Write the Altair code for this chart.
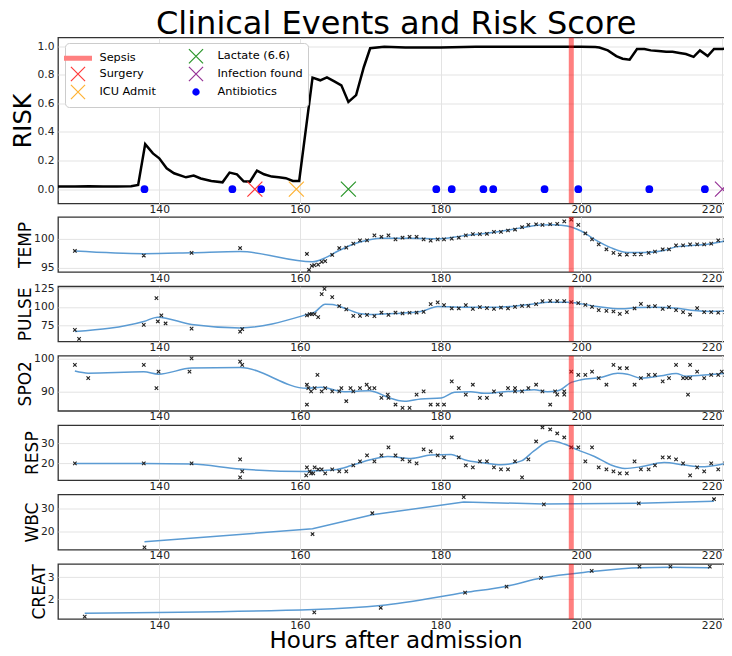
import altair as alt
import pandas as pd

# ---------------- data ----------------
x_domain = [125.6, 221.6]
x_ticks = [140, 160, 180, 200, 220]
sepsis_hour = [198.6]

risk_hours = [125.6, 128.0, 130.0, 132.0, 134.0, 136.0, 137.0, 138.0, 139.1, 140.0, 141.05, 142.1,
              143.8, 144.9, 145.9, 147.4, 149.0, 150.0, 151.05, 152.0, 152.9, 153.9, 154.9, 156.0,
              157.0, 158.0, 159.0, 159.9, 161.8, 162.9, 163.85, 164.9, 165.9, 166.9, 168.0, 169.1,
              170.0, 172.0, 175.0, 180.0, 185.0, 190.0, 195.0, 200.0, 202.0, 202.6, 203.8, 205.0,
              205.9, 206.9, 207.95, 209.0, 209.9, 211.0, 212.1, 213.0, 214.0, 214.9, 216.0, 216.9,
              218.0, 218.9, 220.1, 221.3]
risk_values = [0.018, 0.018, 0.02, 0.019, 0.019, 0.02, 0.03, 0.315, 0.25, 0.216, 0.146, 0.111,
               0.083, 0.095, 0.075, 0.057, 0.048, 0.116, 0.104, 0.055, 0.053, 0.13, 0.104, 0.088,
               0.083, 0.077, 0.058, 0.058, 0.78, 0.761, 0.782, 0.754, 0.726, 0.61, 0.657, 0.854,
               0.985, 0.995, 0.99, 0.99, 0.995, 0.995, 0.996, 0.996, 0.993, 0.99, 0.97, 0.93,
               0.912, 0.905, 0.98, 0.98, 0.97, 0.965, 0.96, 0.96, 0.952, 0.945, 0.925, 0.97,
               0.93, 0.98, 0.98, 0.99]

antibiotic_hours = [137.9, 150.4, 154.5, 179.4, 181.6, 186.1, 187.5, 194.8, 199.6, 209.7, 217.6]
event_names = ["Surgery", "ICU Admit", "Lactate (6.6)", "Infection found"]
event_hours = [153.6, 159.5, 166.9, 220.1]

legend_order = ["Sepsis", "Surgery", "ICU Admit", "Lactate (6.6)", "Infection found", "Antibiotics"]
legend_colors = ["#ff8080", "#ff3b3b", "#ffb233", "#2a962a", "#963296", "#0000ff"]

temp_hours = [128.0, 137.8, 144.6, 151.5, 161.0, 161.3, 161.7, 162.05, 162.6, 163.1, 163.6, 164.6,
              165.6, 166.6, 167.6, 168.55, 169.55, 170.6, 171.6, 172.6, 173.6, 174.6, 175.6, 176.6,
              177.6, 178.6, 179.6, 180.5, 181.6, 182.6, 183.6, 184.6, 185.6, 186.6, 187.6, 188.6,
              189.6, 190.6, 191.6, 192.5, 193.6, 194.5, 195.6, 196.6, 197.6, 198.6, 199.6, 200.6,
              201.55, 202.5, 203.6, 204.6, 205.5, 206.5, 207.6, 208.5, 209.6, 210.5, 211.6, 212.5,
              213.5, 214.5, 215.5, 216.5, 217.5, 218.5, 219.5, 220.5, 221.5]
temp_values = [97.86, 97.07, 97.52, 98.38, 97.34, 94.59, 95.28, 95.4, 95.5, 95.97, 96.1, 97.17,
               98.38, 98.45, 99.14, 99.71, 99.71, 100.57, 100.34, 100.57, 99.88, 100.17, 100.34, 100.34,
               99.88, 99.66, 99.88, 99.88, 100.0, 100.17, 100.57, 100.8, 100.8, 100.86, 101.2, 101.2,
               101.43, 101.6, 102.0, 102.41, 102.52, 102.41, 102.52, 102.59, 103.03, 103.33, 102.41, 100.91,
               99.88, 99.02, 98.16, 97.52, 97.24, 97.24, 97.29, 97.29, 97.52, 97.76, 98.16, 98.16,
               98.84, 98.84, 99.02, 99.02, 99.02, 99.14, 99.71, 99.77, 100.86]
temp_fit_hours = [128.0, 137.8, 144.6, 151.5, 161.8, 163.5, 165.5, 167.5, 168.7, 171.5, 175.8, 179.6,
                  182.9, 187.7, 192.4, 194.3, 196.0, 197.1, 198.6, 200.0, 201.9, 204.2, 206.6, 209.0,
                  211.4, 213.7, 216.1, 218.5, 220.8, 221.6]
temp_fit_values = [97.86, 97.4, 97.55, 97.75, 95.97, 96.6, 97.9, 99.0, 99.48, 100.1, 100.1, 100.0,
                   100.45, 101.14, 102.07, 102.41, 102.45, 102.36, 102.05, 101.35, 99.88, 98.45, 97.6, 97.6,
                   97.86, 98.62, 98.85, 99.14, 99.7, 99.9]

pulse_hours = [128.0, 128.6, 137.8, 139.6, 139.8, 140.3, 140.9, 144.6, 151.5, 151.8, 161.0, 161.4,
               161.7, 162.1, 162.6, 163.1, 163.5, 164.6, 165.6, 166.6, 167.6, 168.55, 169.55, 170.6,
               171.6, 172.6, 173.6, 174.6, 175.6, 176.6, 177.6, 178.6, 179.6, 180.5, 181.6, 182.6,
               183.6, 184.6, 185.6, 186.6, 187.6, 188.6, 189.6, 190.6, 191.6, 192.5, 193.6, 194.5,
               195.6, 196.6, 197.6, 198.6, 199.6, 200.6, 201.55, 202.5, 203.6, 204.6, 205.5, 206.5,
               207.6, 208.5, 209.6, 210.5, 211.6, 212.5, 213.5, 214.5, 215.5, 216.5, 217.5, 218.5,
               219.5, 220.5, 221.5]
pulse_values = [68.6, 56.4, 75.4, 111.9, 80.1, 88.3, 77.4, 70.5, 66.4, 69.6, 88.3, 90.0,
                90.0, 90.0, 86.0, 117.3, 124.6, 113.2, 101.0, 96.5, 87.8, 87.8, 89.0, 87.3,
                92.3, 89.1, 92.3, 91.0, 92.0, 92.3, 93.2, 103.7, 106.0, 102.3, 97.8, 97.8,
                102.3, 97.3, 99.6, 98.2, 97.3, 99.1, 97.8, 100.0, 101.4, 101.4, 103.7, 107.8,
                108.2, 107.8, 107.8, 106.4, 105.0, 102.7, 100.0, 95.5, 94.5, 93.7, 90.5, 92.8,
                97.8, 104.1, 100.5, 101.0, 97.3, 99.6, 95.5, 92.8, 89.6, 98.2, 92.8, 92.8,
                92.0, 92.8, 96.5]
pulse_fit_hours = [128.0, 137.8, 139.8, 144.6, 151.5, 161.0, 162.1, 163.6, 164.6, 166.6, 168.7, 170.0,
                   173.4, 177.2, 179.6, 182.9, 187.7, 190.5, 193.4, 195.2, 198.1, 201.9, 205.7, 208.0,
                   210.4, 213.7, 216.1, 218.5, 221.3]
pulse_fit_values = [66.4, 80.1, 86.0, 76.0, 71.4, 89.6, 92.8, 103.7, 103.2, 97.3, 90.5, 89.5,
                    91.0, 93.7, 100.5, 99.6, 99.6, 101.0, 104.1, 106.4, 106.4, 101.0, 97.3, 99.1,
                    99.6, 98.2, 95.0, 93.7, 95.0]

spo2_hours = [128.0, 129.9, 137.8, 139.6, 139.9, 144.3, 144.6, 151.5, 151.8, 161.0, 161.0, 161.2,
              161.6, 162.1, 162.5, 163.1, 163.6, 164.6, 165.6, 165.9, 166.6, 167.2, 167.6, 168.55,
              169.5, 169.9, 170.6, 171.6, 172.5, 172.6, 173.6, 174.6, 175.6, 176.6, 177.6, 178.6,
              179.6, 180.5, 181.6, 182.6, 183.6, 184.6, 185.6, 186.6, 187.6, 188.6, 189.6, 190.6,
              190.6, 191.6, 192.5, 193.6, 194.5, 195.6, 196.3, 196.6, 197.6, 197.6, 198.6, 199.6,
              200.6, 201.55, 202.5, 203.6, 204.6, 205.5, 206.5, 207.6, 208.5, 209.6, 210.5, 211.6,
              212.5, 213.5, 214.5, 215.0, 215.2, 215.5, 215.5, 216.5, 217.5, 218.5, 219.5, 220.0,
              220.5, 221.5]
spo2_values = [98, 94, 98, 91, 96, 96, 100, 99, 98, 92, 86, 91,
               90, 91, 95, 90, 91, 90, 90, 91, 87, 91, 90, 91,
               92, 91, 91, 88, 89, 88, 86, 85, 85, 89, 90, 86,
               86, 86, 93, 91, 89, 92, 88, 88, 90, 89, 91, 91,
               90, 90, 91, 92, 90, 86, 90, 89, 90, 89, 96, 95,
               95, 96, 94, 92, 98, 97, 97, 92, 94, 95, 95, 93,
               94, 98, 94, 94, 89, 98, 94, 96, 94, 95, 95, 96,
               95, 96]
spo2_fit_hours = [128.0, 129.9, 137.8, 139.9, 144.6, 151.5, 161.0, 163.0, 166.3, 169.9, 170.6, 172.5,
                  174.9, 177.2, 180.1, 182.0, 184.3, 186.2, 189.1, 191.5, 193.3, 195.2, 196.7, 198.6,
                  200.0, 202.8, 205.2, 206.6, 208.5, 211.4, 213.5, 214.9, 218.5, 221.3]
spo2_fit_values = [96.15, 95.5, 95.9, 95.2, 97.06, 97.2, 90.9, 91.2, 89.9, 90.2, 89.9, 88.2,
                   87.0, 87.7, 88.0, 89.7, 89.9, 89.4, 89.9, 90.2, 90.5, 89.9, 90.2, 92.7,
                   93.5, 94.2, 95.45, 95.2, 94.0, 94.7, 95.4, 94.6, 95.1, 95.6]

resp_hours = [128.0, 137.8, 144.6, 151.5, 151.5, 151.8, 160.9, 161.0, 161.4, 161.6, 161.9, 162.1,
              162.6, 163.1, 163.6, 164.6, 165.6, 166.6, 167.6, 168.55, 169.55, 170.6, 171.6, 172.6,
              173.6, 174.6, 175.6, 176.6, 177.6, 178.6, 179.6, 180.5, 181.6, 182.6, 183.6, 184.6,
              185.6, 186.6, 187.6, 188.6, 189.6, 190.6, 191.6, 192.5, 193.6, 194.5, 195.6, 196.6,
              197.6, 198.6, 199.6, 200.6, 201.55, 202.5, 203.6, 204.6, 205.5, 206.5, 207.6, 208.5,
              209.6, 210.5, 211.6, 212.5, 213.5, 214.5, 215.5, 216.5, 217.5, 218.5, 219.5, 220.5,
              221.5]
resp_values = [20, 20, 20, 22, 13, 16, 14, 18, 16, 15, 15, 18,
               17, 17, 15, 17, 16, 16, 19, 21, 24, 21, 24, 28,
               24, 22, 21, 20, 27, 26, 24, 23, 33, 23, 19, 18,
               21, 21, 18, 17, 17, 21, 13, 22, 31, 38, 37, 35,
               33, 28, 28, 21, 28, 18, 17, 16, 15, 15, 21, 17,
               17, 19, 23, 23, 22, 20, 14, 18, 16, 20, 17, 20,
               24]
resp_fit_hours = [128.0, 137.8, 144.6, 151.5, 161.0, 162.1, 164.9, 167.2, 168.7, 170.0, 172.5, 175.8,
                  178.6, 181.5, 183.4, 186.2, 188.6, 191.5, 193.3, 195.7, 197.6, 199.5, 201.9, 204.2,
                  206.2, 208.5, 211.8, 214.7, 217.1, 219.9, 221.6]
resp_fit_values = [20.0, 20.0, 19.7, 17.2, 16.0, 16.3, 16.8, 18.8, 20.5, 21.8, 23.5, 22.5,
                   24.2, 24.5, 21.8, 20.2, 19.3, 21.3, 26.3, 31.3, 29.7, 26.8, 23.5, 19.3,
                   17.5, 18.3, 20.5, 19.2, 18.3, 19.5, 20.8]

wbc_hours = [137.9, 161.8, 170.3, 183.3, 194.7, 208.2, 218.9]
wbc_values = [12.8, 18.7, 27.9, 35.0, 31.8, 32.3, 34.1]
wbc_fit_values = [15.3, 21.0, 27.2, 32.9, 32.0, 32.3, 33.2]

creat_hours = [129.4, 162.05, 171.5, 183.5, 189.4, 194.3, 201.5, 208.3, 212.7, 218.3]
creat_values = [1.22, 1.41, 1.62, 2.31, 2.58, 2.98, 3.29, 3.49, 3.49, 3.49]
creat_fit_values = [1.37, 1.54, 1.72, 2.31, 2.60, 2.97, 3.26, 3.44, 3.46, 3.43]

# ---------------- style ----------------
W = 675
TOP_H = 166
SMALL_H = 55.1
FIT_COLOR = "#5b9bd3"
X_PATH = "M-1,-1L1,1M-1,1L1,-1"
BAR_PATH = "".join(f"M-1.98,{y}L1.98,{y}" for y in [-0.27, -0.135, 0, 0.135, 0.27])
DISK_PATH = "".join(f"M{r},0A{r},{r} 0 1,0 {-r},0A{r},{r} 0 1,0 {r},0" for r in [0.44, 0.31, 0.18, 0.07])
legend_shapes = [BAR_PATH, X_PATH, X_PATH, X_PATH, X_PATH, DISK_PATH]
LAST_LABEL_ALIGN = {"condition": {"test": "datum.value >= 220", "value": "right"}, "value": "center"}

XS = alt.Scale(domain=x_domain, nice=False, zero=False)


def x_enc(bottom=False):
    if bottom:
        ax = alt.Axis(values=x_ticks, format="d", title="Hours after admission",
                      titleFontSize=23, titlePadding=0, labelAlign=LAST_LABEL_ALIGN)
    else:
        ax = alt.Axis(values=x_ticks, format="d", title=None, labelAlign=LAST_LABEL_ALIGN)
    return alt.X("hour:Q", scale=XS, axis=ax)


def sepsis_layer():
    return alt.Chart(pd.DataFrame({"hour": sepsis_hour})).mark_rule(
        color="red", opacity=0.5, strokeWidth=5, clip=True
    ).encode(x=alt.X("hour:Q", scale=XS))


# ---------------- risk panel ----------------
risk_df = pd.DataFrame({"hour": risk_hours, "value": risk_values})
ev_df = pd.DataFrame({
    "hour": event_hours + antibiotic_hours,
    "value": [0.0] * (len(event_hours) + len(antibiotic_hours)),
    "event": event_names + ["Antibiotics"] * len(antibiotic_hours),
})
risk_y = alt.Y("value:Q", scale=alt.Scale(domain=[-0.1, 1.06], nice=False, zero=False),
               axis=alt.Axis(values=[0, 0.2, 0.4, 0.6, 0.8, 1.0], format=".1f", title="RISK",
                             titleFontSize=24, titlePadding=1.5))
risk_line = alt.Chart(risk_df).mark_line(color="black", strokeWidth=2.5, clip=True).encode(
    x=x_enc(), y=risk_y)
legend = alt.Legend(title=None, orient="none", legendX=7, legendY=5.5, columns=2,
                    symbolSize=200, symbolStrokeWidth=1.2, labelFontSize=11.3, labelOffset=13.5,
                    rowPadding=-7, columnPadding=30, fillColor="white", strokeColor="#cccccc",
                    cornerRadius=4, padding=5, labelColor="black", labelFont="DejaVu Sans")
events = alt.Chart(ev_df).mark_point(filled=False, size=225, strokeWidth=1.2, opacity=1,
                                     clip=True).encode(
    x=x_enc(), y=risk_y,
    color=alt.Color("event:N", scale=alt.Scale(domain=legend_order, range=legend_colors), legend=legend),
    shape=alt.Shape("event:N", scale=alt.Scale(domain=legend_order, range=legend_shapes), legend=legend),
)
risk_panel = alt.layer(risk_line, sepsis_layer(), events).properties(width=W, height=TOP_H)


# ---------------- vital panels ----------------
def vital_panel(name, hours, values, fit_hours, fit_values, y_domain, y_ticks, title_pad,
                bottom=False, interp="monotone"):
    pts = pd.DataFrame({"hour": hours, "value": values})
    fit = pd.DataFrame({"hour": fit_hours, "value": fit_values})
    y = alt.Y("value:Q", scale=alt.Scale(domain=y_domain, nice=False, zero=False),
              axis=alt.Axis(values=y_ticks, format="d", title=name, titleFontSize=17,
                            titlePadding=title_pad))
    line = alt.Chart(fit).mark_line(color=FIT_COLOR, strokeWidth=1.5, interpolate=interp,
                                    clip=True).encode(x=x_enc(bottom), y=y)
    marks = alt.Chart(pts).mark_point(shape=X_PATH, size=12, filled=False, color="#222222",
                                      strokeWidth=1.1, opacity=1, clip=True).encode(
        x=x_enc(bottom), y=y)
    return alt.layer(line, marks, sepsis_layer()).properties(width=W, height=SMALL_H)


temp_panel = vital_panel("TEMP", temp_hours, temp_values, temp_fit_hours, temp_fit_values,
                         [94.2, 103.8], [95, 100], -1)
pulse_panel = vital_panel("PULSE", pulse_hours, pulse_values, pulse_fit_hours, pulse_fit_values,
                          [53, 128], [75, 100, 125], -1)
spo2_panel = vital_panel("SPO2", spo2_hours, spo2_values, spo2_fit_hours, spo2_fit_values,
                         [84.1, 100.8], [90, 100], -1)
resp_panel = vital_panel("RESP", resp_hours, resp_values, resp_fit_hours, resp_fit_values,
                         [11.6, 39.2], [20, 30], -1)
wbc_panel = vital_panel("WBC", wbc_hours, wbc_values, wbc_hours, wbc_fit_values,
                        [11.8, 36.2], [20, 30], -1, interp="linear")
creat_panel = vital_panel("CREAT", creat_hours, creat_values, creat_hours, creat_fit_values,
                          [1.11, 3.61], [2, 3], -1, bottom=True, interp="monotone")

chart = alt.vconcat(
    risk_panel, temp_panel, pulse_panel, spo2_panel, resp_panel, wbc_panel, creat_panel,
    spacing=13.4, bounds="flush",
).properties(
    title=alt.TitleParams("Clinical Events and Risk Score", fontSize=32, font="DejaVu Sans",
                          fontWeight="normal", color="black", offset=-4, anchor="middle", dx=24),
    padding={"left": 2, "top": -0.5, "right": -10, "bottom": -5},
).configure_axis(
    grid=True, gridColor="#e3e3e3", gridWidth=1, domain=False, ticks=False, tickSize=0,
    labelFontSize=10.7, labelColor="#222222", labelFont="DejaVu Sans",
    titleFont="DejaVu Sans", titleFontWeight="normal", titleColor="black",
).configure_axisX(labelPadding=1).configure_axisY(labelPadding=4).configure_view(
    stroke="#333333", strokeWidth=1.3
)

chart.save("out.html", embed_options={"renderer": "svg", "actions": False})
